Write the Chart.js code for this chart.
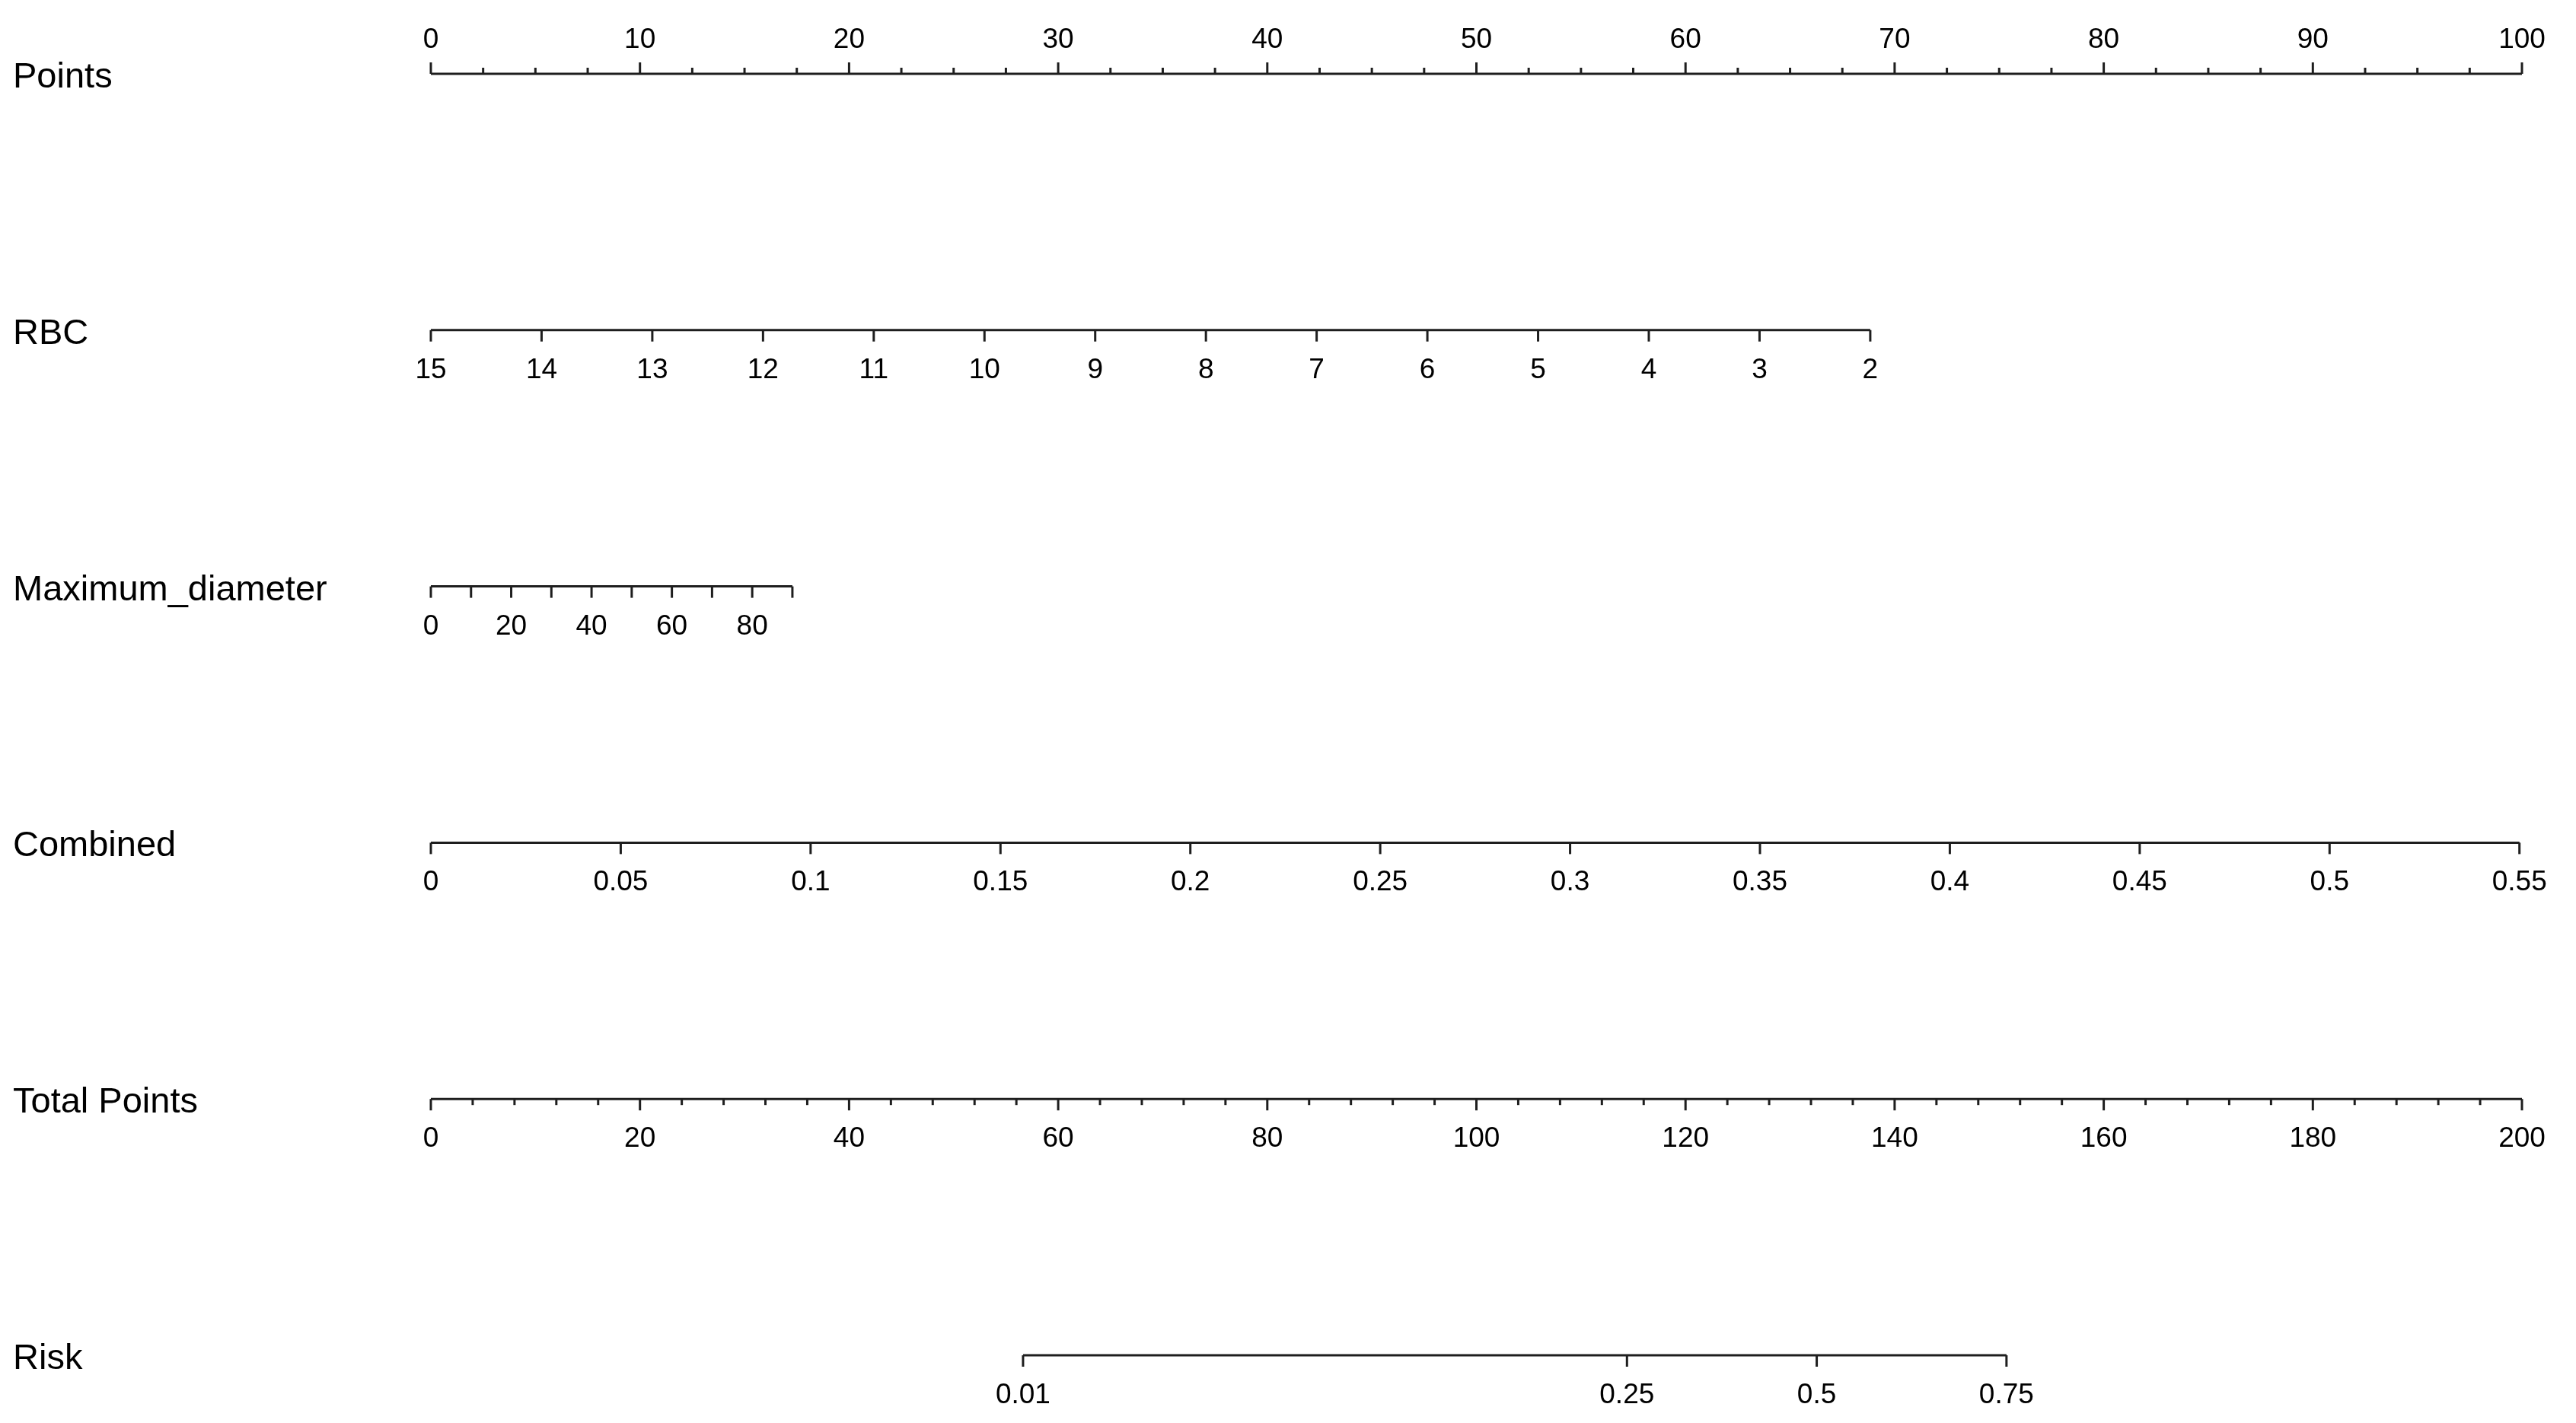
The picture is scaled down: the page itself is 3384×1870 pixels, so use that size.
<!DOCTYPE html>
<html>
<head>
<meta charset="utf-8">
<script src="https://cdn.jsdelivr.net/npm/chart.js@4/dist/chart.umd.min.js"></script>
<style>
  body { margin: 0; background: #fff; }
  #wrap { width: 3384px; height: 1870px; }
</style>
</head>
<body>
<div id="wrap"><canvas id="nomo" width="3384" height="1870"></canvas></div>
<script>
// rows of the nomogram, top to bottom
const rowNames = ['Points', 'RBC', 'Maximum_diameter', 'Combined', 'Total Points', 'Risk'];

// tick values per row
const pointsLabels = [0, 10, 20, 30, 40, 50, 60, 70, 80, 90, 100];
const pointsMinorStep = 2.5;
const rbcTicks = [15, 14, 13, 12, 11, 10, 9, 8, 7, 6, 5, 4, 3, 2];
const diamTicks = [0, 10, 20, 30, 40, 50, 60, 70, 80, 90];
const diamLabels = [0, 20, 40, 60, 80];
const combinedTicks = [0, 0.05, 0.1, 0.15, 0.2, 0.25, 0.3, 0.35, 0.4, 0.45, 0.5, 0.55];
const totalLabels = [0, 20, 40, 60, 80, 100, 120, 140, 160, 180, 200];
const totalMinorStep = 4;
const riskTicks = [0.01, 0.25, 0.5, 0.75];

// model -> points conversion
const rbcPerUnit = 5.295;      // points per 1 unit of RBC (15 = 0 points)
const diamPerUnit = 0.1921;    // points per 1 unit of diameter
const combinedPerUnit = 181.6; // points per 1 unit of Combined
const riskIntercept = 132.55;  // total points at risk 0.5
const riskSlope = 16.52;       // total points per logit unit

const toPts = {
  'Points': v => v,
  'RBC': v => (15 - v) * rbcPerUnit,
  'Maximum_diameter': v => v * diamPerUnit,
  'Combined': v => v * combinedPerUnit,
  'Total Points': v => v / 2,
  'Risk': p => (riskIntercept + riskSlope * Math.log(p / (1 - p))) / 2
};

function range(a, b, step) {
  const out = [];
  for (let v = a; v <= b + 1e-9; v += step) out.push(+v.toFixed(4));
  return out;
}

const rows = [
  { name: rowNames[0], ticks: range(0, 100, pointsMinorStep), labels: pointsLabels, up: true, minorShort: true },
  { name: rowNames[1], ticks: rbcTicks, labels: rbcTicks },
  { name: rowNames[2], ticks: diamTicks, labels: diamLabels },
  { name: rowNames[3], ticks: combinedTicks, labels: combinedTicks },
  { name: rowNames[4], ticks: range(0, 200, totalMinorStep), labels: totalLabels, minorShort: true },
  { name: rowNames[5], ticks: riskTicks, labels: riskTicks }
];

const datasets = rows.map((r, i) => {
  const f = toPts[r.name];
  const xs = r.ticks.map(f);
  return {
    label: r.name,
    data: [{ x: Math.min(...xs), y: i }, { x: Math.max(...xs), y: i }],
    borderColor: '#1e1e1e',
    borderWidth: 3,
    pointRadius: 0,
    clip: false
  };
});

const tickFont = '37px "Liberation Sans", Arial, sans-serif';
const rowFont = '47px "Liberation Sans", Arial, sans-serif';

const nomogramPlugin = {
  id: 'nomogram',
  afterDatasetsDraw(chart) {
    const ctx = chart.ctx;
    const xs = chart.scales.x, ys = chart.scales.y;
    ctx.save();
    ctx.strokeStyle = '#1e1e1e';
    ctx.fillStyle = '#000';
    ctx.lineWidth = 3;
    rows.forEach((r, i) => {
      const f = toPts[r.name];
      const y = ys.getPixelForValue(i);
      const dir = r.up ? -1 : 1;
      // row name
      ctx.font = rowFont;
      ctx.textAlign = 'left';
      ctx.textBaseline = 'alphabetic';
      ctx.fillText(r.name, 17, y + 18);
      // tick marks
      r.ticks.forEach(v => {
        const major = r.labels.includes(v);
        const len = (r.minorShort && !major) ? 8 : 15;
        const x = xs.getPixelForValue(f(v));
        ctx.beginPath();
        ctx.moveTo(x, y);
        ctx.lineTo(x, y + dir * len);
        ctx.stroke();
      });
      // tick labels
      ctx.font = tickFont;
      ctx.textAlign = 'center';
      r.labels.forEach(v => {
        const x = xs.getPixelForValue(f(v));
        ctx.fillText(String(v), x, r.up ? y - 34 : y + 63);
      });
    });
    ctx.restore();
  }
};

new Chart(document.getElementById('nomo'), {
  type: 'line',
  data: { datasets: datasets },
  options: {
    responsive: false,
    animation: false,
    layout: { padding: { left: 566, right: 71, top: 97, bottom: 89 } },
    scales: {
      x: { type: 'linear', min: 0, max: 100, display: false },
      y: { type: 'linear', min: 0, max: 5, reverse: true, display: false }
    },
    plugins: {
      legend: { display: false },
      tooltip: { enabled: false }
    }
  },
  plugins: [nomogramPlugin]
});
</script>
</body>
</html>
